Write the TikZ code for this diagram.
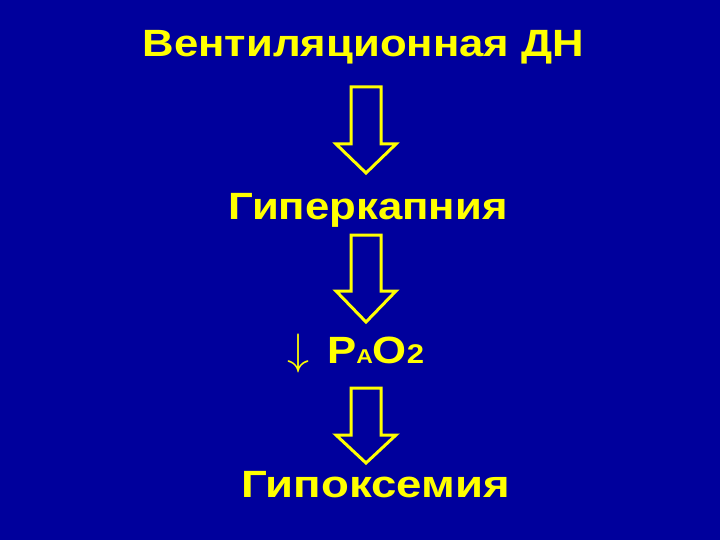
\documentclass[tikz,border=0pt]{standalone}
\usepackage{fix-cm}
\usepackage{fontspec}
\setmainfont{Liberation Sans}[FakeStretch=1.15]
\newfontfamily\widefont{Liberation Sans}[FakeStretch=1.2]
\definecolor{bgblue}{RGB}{0,0,156}
\definecolor{txtyellow}{RGB}{255,255,0}
\tikzset{
  label/.style={text=txtyellow, font=\bfseries\fontsize{38}{40}\selectfont, inner sep=0pt, anchor=base},
  blockarrow/.style={draw=txtyellow, line width=3pt, line join=miter},
}
\newcommand{\hollowarrow}[3]{%
  \draw[blockarrow] (351,#1) -- (381,#1) -- (381,#2) -- (396,#2) -- (366,#3) -- (336,#2) -- (351,#2) -- cycle;}
\begin{document}
\begin{tikzpicture}[x=1pt,y=-1pt]
\fill[bgblue] (0,0) rectangle (720,540);
\useasboundingbox (0,0) rectangle (720,540);
\node[label] (t1) at (363.5,57) {Вентиляционная ДН};
\node[label] (t2) at (368,219) {Гиперкапния};
\node[label, anchor=base west] (t3) at (327,363) {P{\fontsize{20}{22}\selectfont A}O{\fontsize{27}{28}\selectfont 2}};
\node[text=txtyellow, font=\fontsize{44}{46}\selectfont, inner sep=0pt, anchor=base] (t3a) at (298.5,364) {$\downarrow$};
\node[label, font=\widefont\bfseries\fontsize{38}{40}\selectfont] (t4) at (375.5,497) {Гипоксемия};
\hollowarrow{87}{144}{173}
\hollowarrow{235}{291}{322}
\hollowarrow{388}{435}{463}
\end{tikzpicture}
\end{document}
